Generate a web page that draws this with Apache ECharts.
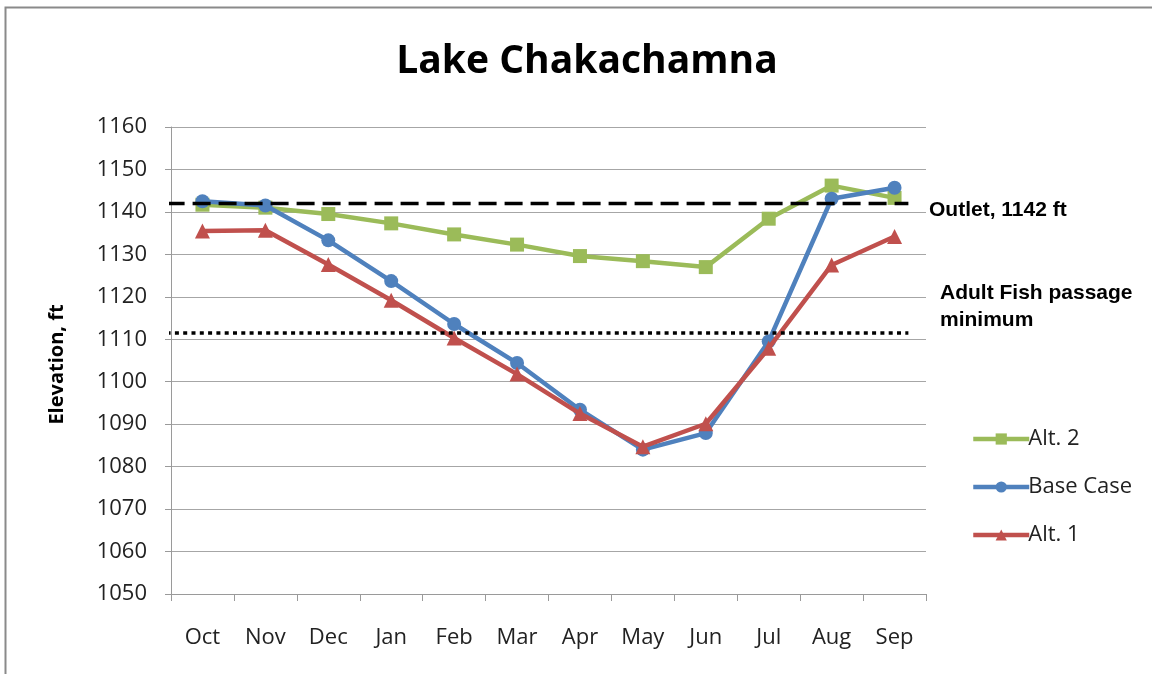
<!DOCTYPE html>
<html>
<head>
<meta charset="utf-8">
<title>Lake Chakachamna</title>
<script src="https://cdn.jsdelivr.net/npm/echarts@6/dist/echarts.min.js"></script>
<style>
  html, body { margin: 0; padding: 0; background: #fff; }
  #chart { width: 1152px; height: 674px; }
</style>
</head>
<body>
<div id="chart"></div>
<script>
  // months of the water year
  var months = ['Oct', 'Nov', 'Dec', 'Jan', 'Feb', 'Mar', 'Apr', 'May', 'Jun', 'Jul', 'Aug', 'Sep']
  // lake elevation, ft
  var alt2 = [1141.7, 1141.0, 1139.5, 1137.3, 1134.7, 1132.3, 1129.6, 1128.4, 1127.0, 1138.4, 1146.2, 1143.3]
  var baseCase = [1142.5, 1141.5, 1133.3, 1123.7, 1113.6, 1104.4, 1093.4, 1084.0, 1087.9, 1109.5, 1143.1, 1145.7]
  var alt1 = [1135.5, 1135.7, 1127.6, 1119.2, 1110.3, 1101.8, 1092.5, 1084.7, 1090.1, 1107.9, 1127.5, 1134.2]
  // reference levels
  var outletLevel = 1142
  var fishMinLevel = 1111.5
  var refSpan = [-0.07, 11.72]

  var chart = echarts.init(document.getElementById('chart'))
  var labelFont = '"Open Sans", sans-serif'
  var noteFont = 'bold 21px "Liberation Sans", Arial, sans-serif'

  function refLine (level) {
    return refSpan.map(function (x) { return [x, level] })
  }

  var option = {
    backgroundColor: '#fff',
    animation: false,
    title: {
      text: 'Lake Chakachamna',
      left: 582,
      top: 37,
      textAlign: 'center',
      textStyle: { fontFamily: labelFont, fontWeight: 'bold', fontSize: 39, color: '#000' }
    },
    grid: { left: 171, right: 226, top: 127, bottom: 80 },
    legend: {
      orient: 'vertical',
      left: 966,
      top: 423,
      itemWidth: 56,
      itemHeight: 14,
      itemGap: 26,
      data: ['Alt. 2', 'Base Case', 'Alt. 1'],
      lineStyle: { width: 4.5 },
      textStyle: { fontFamily: labelFont, fontSize: 22, color: '#222', padding: [0, 0, 0, -6] }
    },
    xAxis: [
      {
        type: 'category',
        data: months,
        axisLine: { lineStyle: { color: '#9a9a9a', width: 1 } },
        axisTick: { show: true, length: 7, lineStyle: { color: '#9a9a9a' } },
        axisLabel: { margin: 33, fontFamily: labelFont, fontSize: 22, color: '#222' },
        splitLine: { show: false }
      },
      { type: 'value', min: 0, max: 12, show: false }
    ],
    yAxis: {
      type: 'value',
      min: 1050,
      max: 1160,
      interval: 10,
      name: 'Elevation, ft',
      nameLocation: 'middle',
      nameGap: 104,
      nameTextStyle: { fontFamily: labelFont, fontWeight: 'bold', fontSize: 20, color: '#000', padding: [0, 0, 0, -8] },
      axisLine: { show: true, lineStyle: { color: '#9a9a9a', width: 1 } },
      axisTick: { show: true, length: 6, lineStyle: { color: '#9a9a9a' } },
      axisLabel: {
        margin: 24,
        fontFamily: labelFont,
        fontSize: 22,
        color: '#222',
        formatter: function (v) { return String(v) }
      },
      splitLine: { lineStyle: { color: '#a6a6a6', width: 1.2 } }
    },
    series: [
      {
        name: 'Alt. 2',
        type: 'line',
        data: alt2,
        color: '#9BBB59',
        symbol: 'rect',
        symbolSize: 14,
        lineStyle: { width: 4.5 },
        z: 3
      },
      {
        name: 'Base Case',
        type: 'line',
        data: baseCase,
        color: '#4F81BD',
        symbol: 'circle',
        symbolSize: 14,
        lineStyle: { width: 4.5 },
        z: 4
      },
      {
        name: 'Alt. 1',
        type: 'line',
        data: alt1,
        color: '#C0504D',
        symbol: 'triangle',
        symbolSize: 15,
        lineStyle: { width: 4.5 },
        z: 5
      },
      {
        name: 'Outlet',
        type: 'line',
        xAxisIndex: 1,
        data: refLine(outletLevel),
        clip: false,
        symbol: 'none',
        color: '#000',
        lineStyle: { width: 3.5, type: [18, 8] },
        z: 6
      },
      {
        name: 'Fish passage',
        type: 'line',
        xAxisIndex: 1,
        data: refLine(fishMinLevel),
        clip: false,
        symbol: 'none',
        color: '#000',
        lineStyle: { width: 3.5, type: [4, 4.3] },
        z: 6
      }
    ],
    graphic: [
      {
        type: 'rect',
        shape: { x: 5.5, y: 7.5, width: 1300, height: 800 },
        style: { fill: 'none', stroke: '#8a8a8a', lineWidth: 2 },
        silent: true
      },
      {
        type: 'text',
        x: 929,
        y: 210,
        style: { text: 'Outlet, 1142 ft', font: noteFont, fill: '#000', verticalAlign: 'middle' }
      },
      {
        type: 'text',
        x: 940,
        y: 293,
        style: { text: 'Adult Fish passage', font: noteFont, fill: '#000', verticalAlign: 'middle' }
      },
      {
        type: 'text',
        x: 940,
        y: 320,
        style: { text: 'minimum', font: noteFont, fill: '#000', verticalAlign: 'middle' }
      }
    ]
  }

  chart.setOption(option)
  window.addEventListener('resize', function () {
    chart.resize()
  })
</script>
</body>
</html>
